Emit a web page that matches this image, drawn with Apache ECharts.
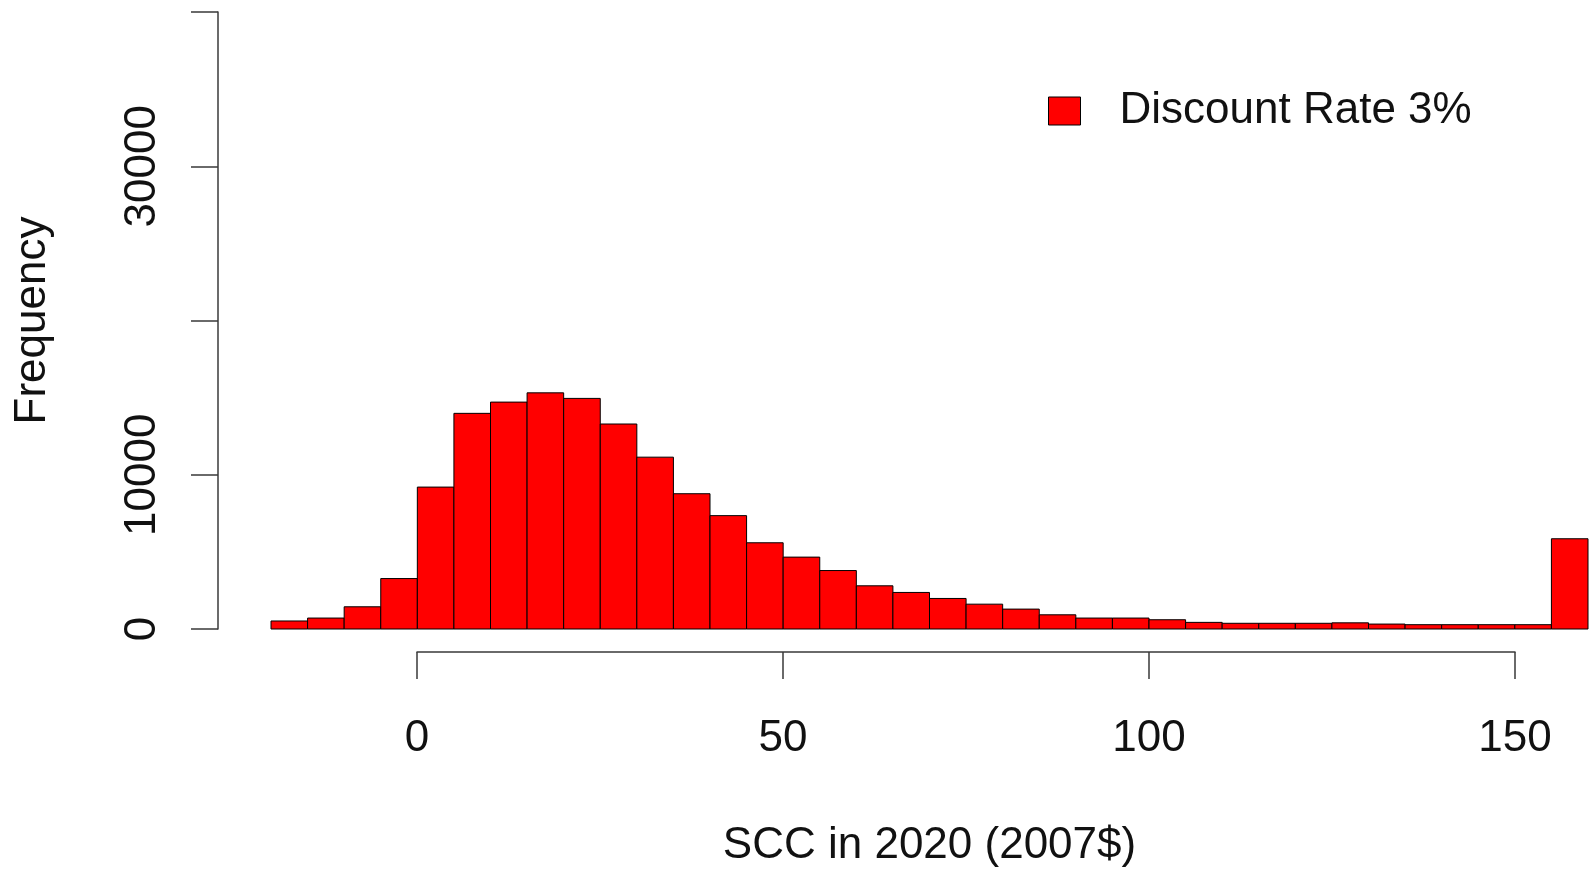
<!DOCTYPE html>
<html>
<head>
<meta charset="utf-8">
<script src="https://cdn.jsdelivr.net/npm/echarts@6/dist/echarts.min.js"></script>
<style>
  html, body { margin: 0; padding: 0; background: #fff; }
  #chart { width: 1596px; height: 873px; }
</style>
</head>
<body>
<div id="chart"></div>
<script>
// ---- data ----
const binStarts = [-20, -15, -10, -5, 0, 5, 10, 15, 20, 25, 30, 35, 40, 45, 50, 55, 60, 65,
                   70, 75, 80, 85, 90, 95, 100, 105, 110, 115, 120, 125, 130, 135, 140, 145, 150, 155];
const binWidth = 5;
const counts = [520, 710, 1440, 3270, 9200, 13980, 14710, 15310, 14950, 13290, 11140, 8770,
                7350, 5590, 4660, 3790, 2800, 2370, 1980, 1610, 1290, 920, 710, 710,
                600, 430, 370, 370, 370, 400, 320, 280, 280, 280, 280, 5850];
const xTicks = [0, 50, 100, 150];
const yTickLabels = { 0: '0', 10000: '10000', 30000: '30000' };
const seriesName = 'Discount Rate 3%';
const xTitle = 'SCC in 2020 (2007$)';
const yTitle = 'Frequency';

const histData = binStarts.map((s, i) => [s, s + binWidth, counts[i]]);

const FONT = 'Liberation Sans, Arial, Helvetica, sans-serif';
const AXIS_COLOR = '#3a3a3a';
const TEXT_COLOR = '#111';

const chart = echarts.init(document.getElementById('chart'));
chart.setOption({
  animation: false,
  backgroundColor: '#ffffff',
  textStyle: { fontFamily: FONT },
  legend: {
    left: 1043,
    top: 84,
    itemWidth: 32,
    itemHeight: 28,
    icon: 'rect',
    itemStyle: { color: '#ff0000', borderColor: '#000', borderWidth: 1 },
    textStyle: { fontSize: 44, color: TEXT_COLOR, fontFamily: FONT, padding: [0, 0, 0, 34] },
    data: [seriesName]
  },
  grid: [
    { left: 271, right: 8, top: 12, bottom: 243, containLabel: false },
    { left: 417, right: 81, top: 600, bottom: 221, containLabel: false }
  ],
  xAxis: [
    {
      type: 'value', gridIndex: 0, min: -20, max: 160,
      axisLine: { show: false, onZero: false }, axisTick: { show: false },
      axisLabel: { show: false }, splitLine: { show: false },
      name: xTitle, nameLocation: 'middle', nameGap: 195,
      nameTextStyle: { fontSize: 44, color: TEXT_COLOR, fontFamily: FONT }
    },
    {
      type: 'value', gridIndex: 1, min: 0, max: 150, interval: 50,
      axisLine: { show: true, onZero: false, lineStyle: { color: AXIS_COLOR, width: 1.5 } },
      axisTick: { show: true, length: 27, lineStyle: { color: AXIS_COLOR, width: 1.5 },
                  customValues: xTicks },
      axisLabel: { show: true, fontSize: 44, color: TEXT_COLOR, margin: 65, fontFamily: FONT,
                   customValues: xTicks },
      splitLine: { show: false }
    }
  ],
  yAxis: [
    {
      type: 'value', gridIndex: 0, min: 0, max: 40000, interval: 10000,
      offset: 53,
      axisLine: { show: true, onZero: false, lineStyle: { color: AXIS_COLOR, width: 1.5 } },
      axisTick: { show: true, length: 27, lineStyle: { color: AXIS_COLOR, width: 1.5 } },
      axisLabel: {
        show: true, rotate: 90, fontSize: 44, color: TEXT_COLOR, margin: 53, fontFamily: FONT,
        formatter: v => (yTickLabels[v] !== undefined ? yTickLabels[v] : '')
      },
      splitLine: { show: false },
      name: yTitle, nameLocation: 'middle', nameGap: 163, nameRotate: 90,
      nameTextStyle: { fontSize: 44, color: TEXT_COLOR, fontFamily: FONT }
    },
    {
      type: 'value', gridIndex: 1, show: false
    }
  ],
  series: [
    {
      name: seriesName,
      type: 'custom',
      xAxisIndex: 0,
      yAxisIndex: 0,
      itemStyle: { color: '#ff0000', borderColor: '#000', borderWidth: 1 },
      encode: { x: [0, 1], y: 2 },
      renderItem: function (params, api) {
        const p0 = api.coord([api.value(0), api.value(2)]);
        const p1 = api.coord([api.value(1), 0]);
        return {
          type: 'rect',
          shape: { x: p0[0], y: p0[1], width: p1[0] - p0[0], height: p1[1] - p0[1] },
          style: { fill: '#ff0000', stroke: '#000', lineWidth: 1 }
        };
      },
      data: histData
    }
  ]
});
</script>
</body>
</html>
